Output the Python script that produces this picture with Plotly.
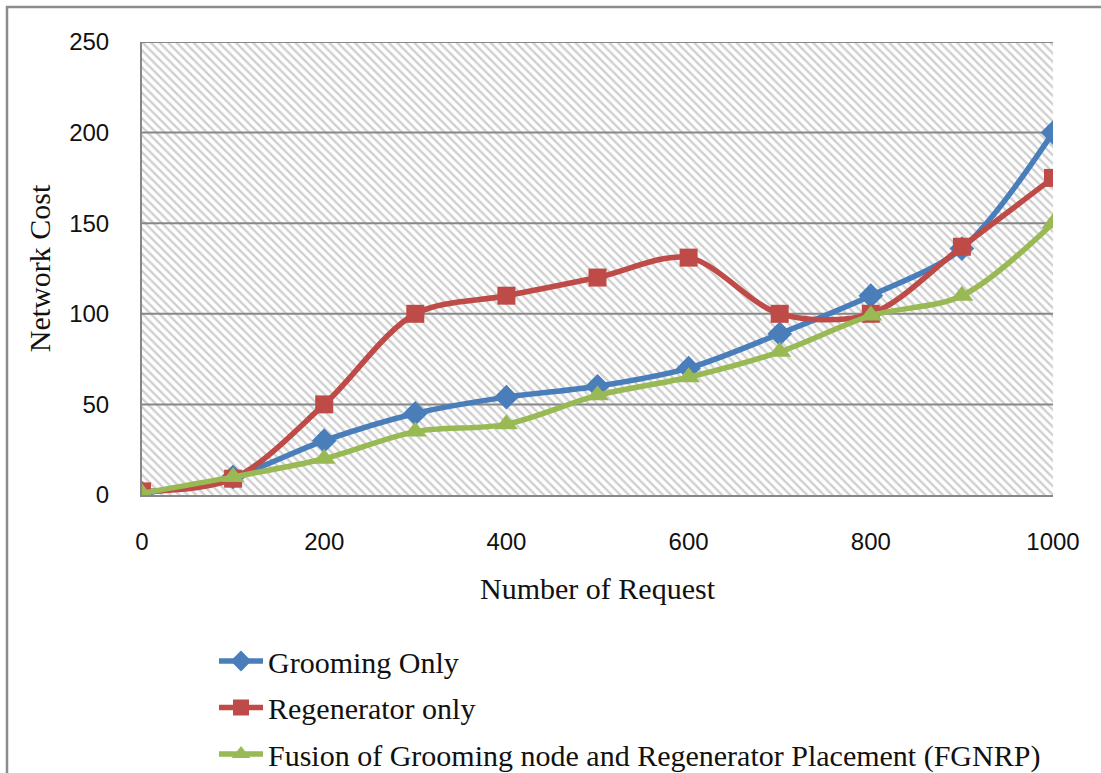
import plotly.graph_objects as go

# Data
requests = [0, 100, 200, 300, 400, 500, 600, 700, 800, 900, 1000]
grooming_only = [1, 10, 30, 45, 54, 60, 70, 89, 110, 136, 200]
regenerator_only = [2, 9, 50, 100, 110, 120, 131, 100, 100, 137, 175]
fgnrp = [1, 10, 20, 35, 39, 55, 65, 79, 99, 110, 150]

x_ticks = [0, 200, 400, 600, 800, 1000]
y_ticks = [0, 50, 100, 150, 200, 250]
x_range = [0, 1000]
y_range = [0, 250]

series_names = [
    "Grooming Only",
    "Regenerator only",
    "Fusion of Grooming node and Regenerator Placement (FGNRP)",
]
colors = ["#4a7ebb", "#be4b48", "#98b954"]
symbols = ["diamond", "square", "triangle-up"]
marker_sizes = [19, 18, 20]

W, H = 1101, 773
ML, MR, MT, MB = 142, 48, 42, 278
PW, PH = W - ML - MR, H - MT - MB


def px_to_paper_x(px):
    return (px - ML) / PW


def px_to_paper_y(py):
    return (H - MB - py) / PH


fig = go.Figure()

# Hatched plot background
fig.add_trace(go.Scatter(
    x=[x_range[0], x_range[1], x_range[1], x_range[0], x_range[0]],
    y=[y_range[0], y_range[0], y_range[1], y_range[1], y_range[0]],
    mode="lines", fill="toself",
    line=dict(width=0, color="rgba(0,0,0,0)"),
    fillcolor="white",
    fillpattern=dict(shape="\\", size=6, solidity=0.4,
                     fgcolor="#a0a0a0", bgcolor="#ffffff"),
    hoverinfo="skip", showlegend=False,
))

# Horizontal grid lines drawn over the hatching
gx, gy = [], []
for t in y_ticks[1:]:
    gx += [x_range[0], x_range[1], None]
    gy += [t, t, None]
fig.add_trace(go.Scatter(
    x=gx, y=gy, mode="lines",
    line=dict(color="#878787", width=2),
    hoverinfo="skip", showlegend=False,
))

for name, vals, c, s, ms in zip(series_names,
                                [grooming_only, regenerator_only, fgnrp],
                                colors, symbols, marker_sizes):
    fig.add_trace(go.Scatter(
        x=requests, y=vals, name=name, legendgroup=name,
        mode="lines+markers",
        line=dict(color=c, width=5.5, shape="spline", smoothing=0.9),
        marker=dict(symbol=s, size=ms, color=c),
    ))

# Outer chart frame
fig.add_shape(type="rect", xref="paper", yref="paper",
              x0=px_to_paper_x(7), x1=px_to_paper_x(W + 20),
              y0=px_to_paper_y(H + 20), y1=px_to_paper_y(7),
              line=dict(color="#8c8c8c", width=2.5), fillcolor="rgba(0,0,0,0)",
              layer="above")

axis_font = dict(family="Liberation Sans, Arial, sans-serif", size=24, color="#111")
title_font = dict(family="Liberation Serif, Times New Roman, serif", size=30, color="#111")

fig.update_xaxes(
    range=x_range, tickvals=x_ticks, ticktext=[str(v) for v in x_ticks],
    showgrid=False, zeroline=False,
    showline=True, linecolor="#878787", linewidth=2,
    ticks="", tickfont=axis_font, ticklabelstandoff=24,
    title=dict(text="Number of Request", font=title_font, standoff=24),
)
fig.update_yaxes(
    range=y_range, tickvals=y_ticks, ticktext=[str(v) for v in y_ticks],
    showgrid=False, zeroline=False,
    showline=True, linecolor="#878787", linewidth=2,
    ticks="", tickfont=axis_font, ticklabelstandoff=26,
    title=dict(text="Network Cost", font=title_font, standoff=10),
)

fig.update_layout(
    width=W, height=H,
    margin=dict(l=ML, r=MR, t=MT, b=MB, autoexpand=False),
    paper_bgcolor="white", plot_bgcolor="white",
    showlegend=True,
    legend=dict(
        x=px_to_paper_x(214), y=px_to_paper_y(635),
        xanchor="left", yanchor="top",
        font=dict(family="Liberation Serif, Times New Roman, serif", size=30, color="#111"),
        tracegroupgap=4.5, bgcolor="rgba(0,0,0,0)",
        itemwidth=44,
    ),
)

fig.write_html("out.html")
